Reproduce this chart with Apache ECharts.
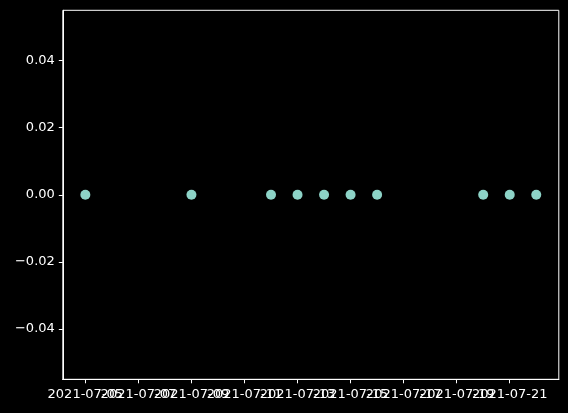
<!DOCTYPE html>
<html>
<head>
<meta charset="utf-8">
<script src="https://cdn.jsdelivr.net/npm/echarts@6/dist/echarts.min.js"></script>
<style>
html,body{margin:0;padding:0;background:#000;}
#c{width:568px;height:413px;}
</style>
</head>
<body>
<div id="c"></div>
<script>
// Data
const dates = ['2021-07-05','2021-07-09','2021-07-12','2021-07-13','2021-07-14','2021-07-15','2021-07-16','2021-07-20','2021-07-21','2021-07-22'];
const values = [0,0,0,0,0,0,0,0,0,0];
const xTickDates = ['2021-07-05','2021-07-07','2021-07-09','2021-07-11','2021-07-13','2021-07-15','2021-07-17','2021-07-19','2021-07-21'];
const yTicks = [-0.04,-0.02,0.00,0.02,0.04];

function ts(s){const p=s.split('-').map(Number);return Date.UTC(p[0],p[1]-1,p[2]);}
function fmtDate(v){const d=new Date(v);const m=String(d.getUTCMonth()+1).padStart(2,'0');const dd=String(d.getUTCDate()).padStart(2,'0');return d.getUTCFullYear()+'-'+m+'-'+dd;}

const xs = dates.map(ts);
const xMinData = Math.min(...xs), xMaxData = Math.max(...xs);
const xPad = (xMaxData - xMinData) * 0.05;
const tickVals = xTickDates.map(ts);
// split ticks in two groups so that all overlapping labels are drawn (like matplotlib)
const tickA = tickVals.filter((v,i)=>i%2===0);
const tickB = tickVals.filter((v,i)=>i%2===1);

const font = 'DejaVu Sans';
const fs = 13;
function xAxisDef(ticks){
  return {
    type:'value',
    position:'bottom',
    min:xMinData - xPad, max:xMaxData + xPad,
    splitLine:{show:false},
    axisLine:{show:true, onZero:false, lineStyle:{color:'#ffffff', width:1}},
    axisTick:{show:true, length:4, customValues:ticks, lineStyle:{color:'#ffffff', width:1}},
    axisLabel:{show:true, customValues:ticks, color:'#ffffff', fontFamily:font, fontSize:fs, margin:9, hideOverlap:false, showMinLabel:true, showMaxLabel:true, formatter:(v)=>fmtDate(v)}
  };
}

const chart = echarts.init(document.getElementById('c'), null, {renderer:'canvas'});
chart.setOption({
  backgroundColor:'#000000',
  animation:false,
  grid:{left:62.8, right:9.2, top:10.3, bottom:33.7, containLabel:false, show:true, borderColor:'#ffffff', borderWidth:1, backgroundColor:'transparent'},
  xAxis:[xAxisDef(tickA), xAxisDef(tickB)],
  yAxis:{
    type:'value',
    min:-0.055, max:0.055,
    splitLine:{show:false},
    axisLine:{show:true, onZero:false, lineStyle:{color:'#ffffff', width:1}},
    axisTick:{show:true, length:4, customValues:yTicks, lineStyle:{color:'#ffffff', width:1}},
    axisLabel:{show:true, customValues:yTicks, color:'#ffffff', fontFamily:font, fontSize:fs, margin:8, hideOverlap:false, showMinLabel:true, showMaxLabel:true,
      formatter:(v)=>{const s=Math.abs(v).toFixed(2);return (v< -1e-9?'\u2212':'')+s;}}
  },
  series:[{
    type:'scatter',
    xAxisIndex:0,
    data:xs.map((x,i)=>[x, values[i]]),
    symbol:'circle',
    symbolSize:10,
    itemStyle:{color:'#8dd3c7', opacity:1}
  }]
});
</script>
</body>
</html>
